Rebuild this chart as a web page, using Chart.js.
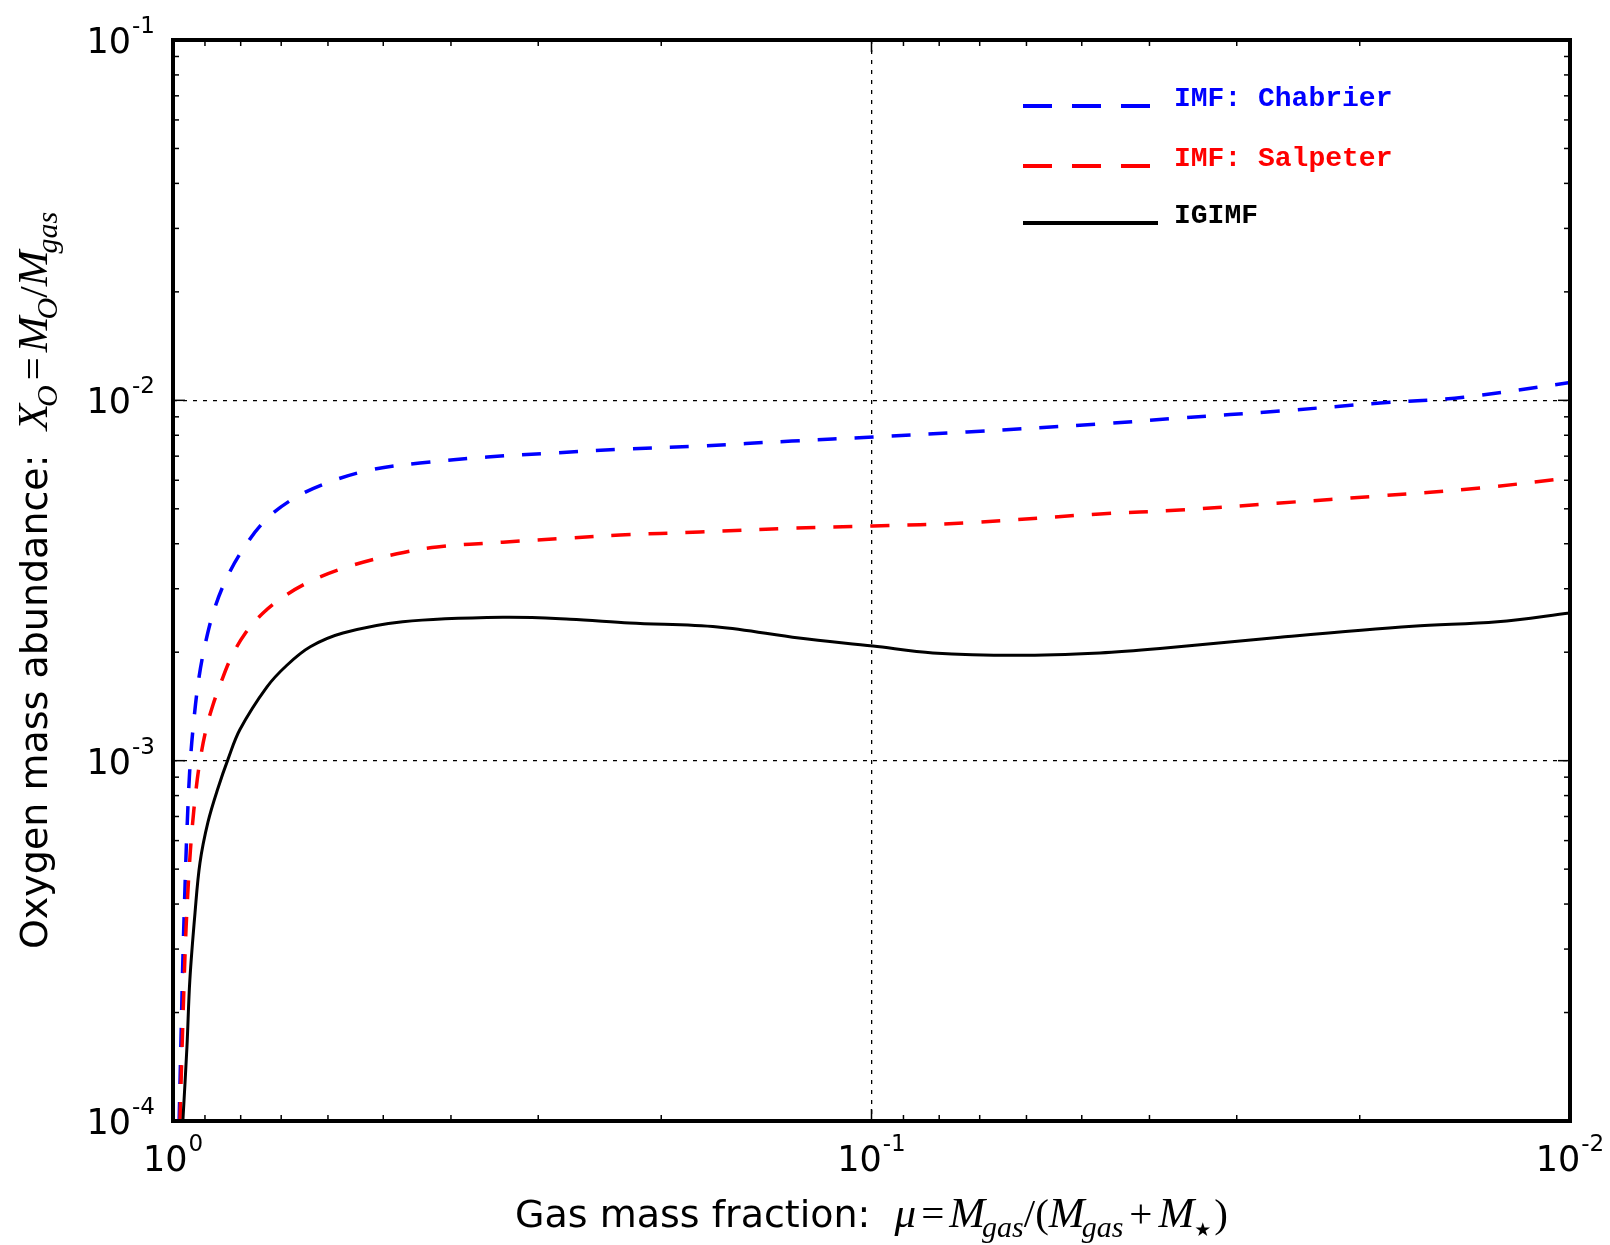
<!DOCTYPE html>
<html>
<head>
<meta charset="utf-8">
<script src="https://cdn.jsdelivr.net/npm/chart.js@4.4.0/dist/chart.umd.min.js"></script>
<style>
  html, body { margin:0; padding:0; background:#fff; }
  #wrap { width:1610px; height:1245px; }
</style>
</head>
<body>
<div id="wrap"><canvas id="c" width="1610" height="1245"></canvas></div>
<script>
// ── data: gas fraction mu vs oxygen abundance X_O ──
const chabMu = [0.980,0.974,0.968,0.961,0.955,0.9455,0.933,0.918,0.900,0.876,0.843,0.797,0.739,0.673,0.602,0.522,0.443,0.355,0.286,0.224,0.176,0.130,0.0995,0.0730,0.0471,0.0362,0.0260,0.0187,0.0142,0.0100];
const chabX  = [1.00e-4,1.68e-4,2.80e-4,4.52e-4,6.42e-4,9.66e-4,1.31e-3,1.70e-3,2.09e-3,2.57e-3,3.13e-3,3.82e-3,4.63e-3,5.33e-3,5.90e-3,6.41e-3,6.70e-3,6.96e-3,7.14e-3,7.33e-3,7.47e-3,7.71e-3,7.91e-3,8.17e-3,8.60e-3,8.93e-3,9.34e-3,9.83e-3,1.02e-2,1.12e-2];

const salpMu = [0.9772,0.9708,0.9644,0.9581,0.9486,0.9393,0.9270,0.9149,0.8969,0.8764,0.8536,0.8259,0.7888,0.7431,0.6892,0.6263,0.5578,0.4779,0.4188,0.3370,0.2702,0.2291,0.1761,0.1295,0.0995,0.0730,0.0471,0.0362,0.0260,0.0187,0.01345,0.0100];
const salpX  = [1.00e-4,1.57e-4,2.38e-4,3.39e-4,4.91e-4,6.42e-4,8.29e-4,1.00e-3,1.22e-3,1.43e-3,1.65e-3,1.93e-3,2.25e-3,2.57e-3,2.88e-3,3.19e-3,3.47e-3,3.75e-3,3.92e-3,4.04e-3,4.15e-3,4.23e-3,4.31e-3,4.42e-3,4.48e-3,4.57e-3,4.84e-3,4.96e-3,5.19e-3,5.43e-3,5.71e-3,6.09e-3];

const igMu = [0.968,0.955,0.946,0.930,0.915,0.891,0.862,0.834,0.802,0.734,0.687,0.636,0.571,0.469,0.337,0.270,0.222,0.166,0.127,0.0995,0.0817,0.0619,0.0471,0.0383,0.0260,0.0168,0.0127,0.0100];
const igX  = [1.00e-4,1.61e-4,2.46e-4,3.78e-4,5.20e-4,6.76e-4,8.40e-4,1.01e-3,1.22e-3,1.60e-3,1.84e-3,2.07e-3,2.26e-3,2.43e-3,2.50e-3,2.47e-3,2.41e-3,2.35e-3,2.19e-3,2.08e-3,1.99e-3,1.96e-3,1.99e-3,2.05e-3,2.20e-3,2.36e-3,2.43e-3,2.57e-3];

// axis decades and their exponent labels
const xDecades = [1, 0.1, 0.01];
const xExps    = ['0', '-1', '-2'];
const yDecades = [1e-4, 1e-3, 1e-2, 1e-1];
const yExps    = ['-4', '-3', '-2', '-1'];

const seriesNames = ['IMF: Chabrier', 'IMF: Salpeter', 'IGIMF'];
const seriesColors = ['#0000ff', '#ff0000', '#000000'];

const pts = (xs, ys) => xs.map((v, i) => ({ x: v, y: ys[i] }));

const SANS = '"DejaVu Sans", Verdana, sans-serif';
const SERIF = '"Liberation Serif", "DejaVu Serif", serif';

// draw a run of text pieces left to right; returns width
function runText(ctx, parts, x, y, measureOnly) {
  let w = 0;
  for (const p of parts) {
    ctx.font = p.f;
    w += (p.before || 0);
    const pw = ctx.measureText(p.t).width;
    if (!measureOnly) ctx.fillText(p.t, x + w + (p.dx || 0), y + (p.dy || 0));
    w += pw + (p.dx || 0) + (p.after || 0);
  }
  return w;
}

function powLabel(base, exp) {
  return [
    { t: base, f: '35px ' + SANS },
    { t: exp, f: '23px ' + SANS, dy: -20, dx: 1 }
  ];
}

const MI = 'italic 43px ' + SERIF;   // math italic
const MS = 'italic 30px ' + SERIF;   // math subscript
const MR = '41px ' + SERIF;          // math upright
const xTitle = [
  { t: 'Gas mass fraction:  ', f: '38px ' + SANS },
  { t: 'μ', f: MI },
  { t: '=', f: MR, before: 5, after: 5 },
  { t: 'M', f: MI },
  { t: 'gas', f: MS, dy: 10, dx: -3 },
  { t: '/(', f: MR },
  { t: 'M', f: MI },
  { t: 'gas', f: MS, dy: 10, dx: -3 },
  { t: '+', f: MR, before: 6, after: 6 },
  { t: 'M', f: MI },
  { t: '★', f: '19px ' + SANS, dy: 9, dx: 0, after: 3 },
  { t: ')', f: MR }
];

const yTitle = [
  { t: 'Oxygen mass abundance:  ', f: '38px ' + SANS },
  { t: 'X', f: MI },
  { t: 'O', f: MS, dy: 10, dx: -3 },
  { t: '=', f: MR, before: 5, after: 5 },
  { t: 'M', f: MI },
  { t: 'O', f: MS, dy: 10, dx: -3 },
  { t: '/', f: MR },
  { t: 'M', f: MI },
  { t: 'gas', f: MS, dy: 10, dx: -3 }
];

const frame = {
  id: 'frame',
  afterDraw(chart) {
    const { ctx, chartArea: a, scales: { x, y } } = chart;
    ctx.save();
    ctx.strokeStyle = '#000';
    ctx.fillStyle = '#000';

    // inward ticks on all four sides
    const seg = (x1, y1, x2, y2) => { ctx.beginPath(); ctx.moveTo(x1, y1); ctx.lineTo(x2, y2); ctx.stroke(); };
    ctx.lineWidth = 1.5;
    xDecades.forEach(d => {
      for (let k = 1; k <= 9; k++) {
        const v = d * k;
        if (v < x.min || v > x.max) continue;
        const px = x.getPixelForValue(v), L = k === 1 ? 12 : 6;
        seg(px, a.bottom, px, a.bottom - L);
        seg(px, a.top, px, a.top + L);
      }
    });
    yDecades.forEach(d => {
      for (let k = 1; k <= 9; k++) {
        const v = d * k;
        if (v < y.min || v > y.max) continue;
        const py = y.getPixelForValue(v), L = k === 1 ? 12 : 6;
        seg(a.left, py, a.left + L, py);
        seg(a.right, py, a.right - L, py);
      }
    });

    // heavy frame
    ctx.lineWidth = 4;
    ctx.strokeRect(a.left, a.top, a.right - a.left, a.bottom - a.top);

    // tick labels (10 with raised exponent)
    ctx.textAlign = 'left';
    ctx.textBaseline = 'alphabetic';
    xDecades.forEach((d, i) => {
      const parts = powLabel('10', xExps[i]);
      const w = runText(ctx, parts, 0, 0, true);
      runText(ctx, parts, x.getPixelForValue(d) - w / 2, a.bottom + 50);
    });
    yDecades.forEach((d, i) => {
      const parts = powLabel('10', yExps[i]);
      const w = runText(ctx, parts, 0, 0, true);
      runText(ctx, parts, a.left - 18 - w, y.getPixelForValue(d) + 13);
    });

    // axis titles
    const xw = runText(ctx, xTitle, 0, 0, true);
    runText(ctx, xTitle, (a.left + a.right) / 2 - xw / 2, 1227);
    ctx.save();
    ctx.translate(47, (a.top + a.bottom) / 2);
    ctx.rotate(-Math.PI / 2);
    const yw = runText(ctx, yTitle, 0, 0, true);
    runText(ctx, yTitle, -yw / 2, 0);
    ctx.restore();

    // legend in the upper right of the plot
    const rows = [106, 166, 223];
    rows.forEach((ry, i) => {
      ctx.strokeStyle = seriesColors[i];
      ctx.lineWidth = 4;
      ctx.setLineDash(i < 2 ? [29, 20] : []);
      seg(1023, ry, i < 2 ? 1150 : 1158, ry);
      ctx.setLineDash([]);
      ctx.fillStyle = seriesColors[i];
      ctx.font = 'bold 28px "Liberation Mono", "DejaVu Sans Mono", monospace';
      ctx.fillText(seriesNames[i], 1174, ry);
    });
    ctx.restore();
  }
};

const lineDs = (label, data, color, dash, width) => ({
  label, data, borderColor: color, backgroundColor: color,
  borderDash: dash, borderWidth: width, pointRadius: 0,
  tension: 0.35, fill: false
});

new Chart(document.getElementById('c').getContext('2d'), {
  type: 'line',
  data: {
    datasets: [
      lineDs(seriesNames[2], pts(igMu, igX), seriesColors[2], [], 3),
      lineDs(seriesNames[1], pts(salpMu, salpX), seriesColors[1], [19, 18], 3.5),
      lineDs(seriesNames[0], pts(chabMu, chabX), seriesColors[0], [19, 18], 3.5)
    ]
  },
  options: {
    responsive: false,
    animation: false,
    layout: { padding: { left: 173, right: 40, top: 40, bottom: 124 } },
    plugins: { legend: { display: false }, tooltip: { enabled: false } },
    scales: {
      x: {
        type: 'logarithmic', min: 0.01, max: 1, reverse: true,
        afterBuildTicks: s => { s.ticks = xDecades.map(v => ({ value: v })); },
        ticks: { display: false },
        grid: { color: '#000', lineWidth: 1.3, drawTicks: false },
        border: { display: false, dash: [4, 6] }
      },
      y: {
        type: 'logarithmic', min: 1e-4, max: 1e-1,
        afterBuildTicks: s => { s.ticks = yDecades.map(v => ({ value: v })); },
        ticks: { display: false },
        grid: { color: '#000', lineWidth: 1.3, drawTicks: false },
        border: { display: false, dash: [4, 6] }
      }
    }
  },
  plugins: [frame]
});
</script>
</body>
</html>
